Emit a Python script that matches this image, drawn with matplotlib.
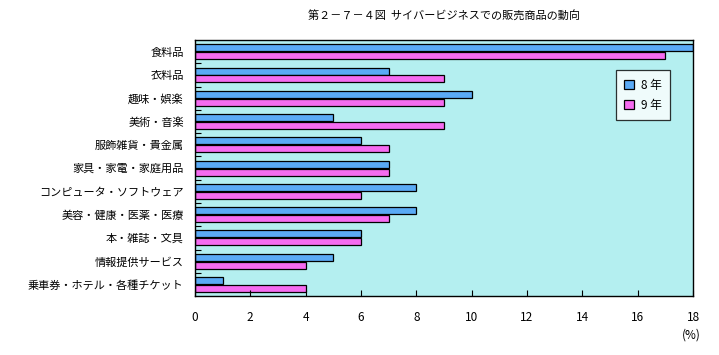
import matplotlib.pyplot as plt
import numpy as np

plt.rcParams['font.family'] = ['Noto Sans CJK JP', 'DejaVu Sans']

categories = ['食料品', '衣料品', '趣味・娯楽', '美術・音楽', '服飾雑貨・貴金属',
              '家具・家電・家庭用品', 'コンピュータ・ソフトウェア', '美容・健康・医薬・医療',
              '本・雑誌・文具', '情報提供サービス', '乗車券・ホテル・各種チケット']
h8 = [18, 7, 10, 5, 6, 7, 8, 8, 6, 5, 1]
h9 = [17, 9, 9, 9, 7, 7, 6, 7, 6, 4, 4]
xticks = [0, 2, 4, 6, 8, 10, 12, 14, 16, 18]

fig = plt.figure(figsize=(7.19, 3.55), dpi=100)
ax = fig.add_axes([0.271, 0.166, 0.693, 0.721])
ax.set_facecolor('#b4eff0')

y = np.arange(len(categories))
bh = 0.3
ax.barh(y - 0.17, h8, height=bh, color='#5aaaf5', edgecolor='black', linewidth=0.9, label='8 年')
ax.barh(y + 0.17, h9, height=bh, color='#f56cf0', edgecolor='black', linewidth=0.9, label='9 年')

ax.set_xlim(0, 18)
ax.set_ylim(len(categories) - 0.5, -0.5)
ax.set_xticks(xticks)
ax.set_yticks(y)
ax.set_yticklabels(categories, fontsize=8)
ax.set_yticks(np.arange(len(categories) - 1) + 0.5, minor=True)
ax.tick_params(axis='y', which='major', length=0, pad=8)
ax.tick_params(axis='y', which='minor', direction='in', length=4, width=0.8)
ax.tick_params(axis='x', direction='in', length=4, width=0.8, labelsize=8.5, pad=11)
for s in ax.spines.values():
    s.set_linewidth(1.0)

ax.set_title('第２－７－４図  サイバービジネスでの販売商品の動向', fontsize=8, pad=15)
fig.text(0.962, 0.045, '(%)', fontsize=8.5, ha='center')

leg = ax.legend(loc='upper right', bbox_to_anchor=(0.965, 0.905), fontsize=8.5,
                frameon=True, fancybox=False, edgecolor='black', handlelength=0.8,
                handleheight=0.8, handletextpad=0.6, borderpad=0.7, labelspacing=0.6)
leg.get_frame().set_linewidth(0.9)
leg.get_frame().set_facecolor('white')

plt.savefig('out.png', dpi=100)
